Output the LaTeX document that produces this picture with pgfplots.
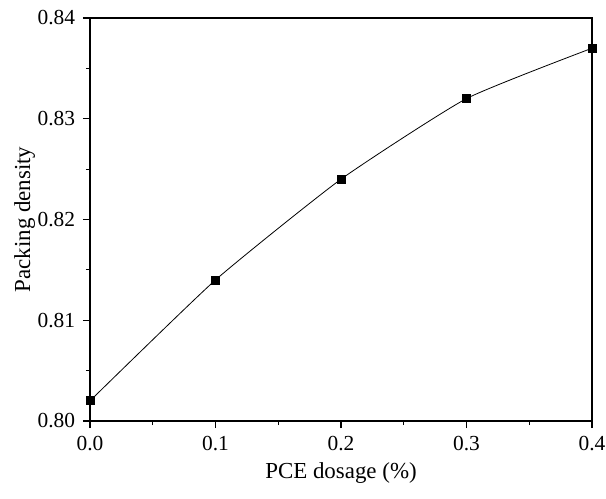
\documentclass[border=0pt]{standalone}
\usepackage{pgfplots}
\pgfplotsset{compat=1.18}
\usepackage{fontspec}
\setmainfont{Liberation Serif}
\begin{document}
\fontsize{23}{27}\selectfont
\begin{tikzpicture}
\useasboundingbox (-90bp,-78bp) rectangle (516bp,421bp);
\begin{axis}[
  at={(0,0)}, anchor=south west,
  scale only axis,
  width=502bp, height=403bp,
  xmin=0, xmax=0.4, ymin=0.80, ymax=0.84,
  xtick={0,0.1,0.2,0.3,0.4},
  ytick={0.80,0.81,0.82,0.83,0.84},
  minor x tick num=1, minor y tick num=1,
  tick pos=left,
  tick align=outside,
  major tick length=7bp, minor tick length=4bp,
  axis line style={line width=1.1bp},
  every tick/.style={black, line width=1.1bp},
  /pgf/number format/assume math mode=true,
  xticklabel style={/pgf/number format/.cd, fixed, fixed zerofill, precision=1, assume math mode=true},
  yticklabel style={/pgf/number format/.cd, fixed, fixed zerofill, precision=2, assume math mode=true},
  scaled ticks=false,
  tick label style={font=\fontsize{21.5}{25}\selectfont},
  label style={font=\fontsize{23}{27}\selectfont},
  xlabel={PCE dosage (\%)},
  ylabel={Packing density},
  xlabel style={at={(axis description cs:0.5,-0.1439)}, anchor=base},
  ylabel style={at={(axis description cs:-0.1195,0.5)}, anchor=base},
  clip=false,
]
\addplot[black, line width=0.8bp, smooth, tension=0.3, mark=square*, mark size=4bp, mark options={solid}] coordinates {
  (0.0,0.802) (0.1,0.814) (0.2,0.824) (0.3,0.832) (0.4,0.837)
};
\end{axis}
\end{tikzpicture}
\end{document}
